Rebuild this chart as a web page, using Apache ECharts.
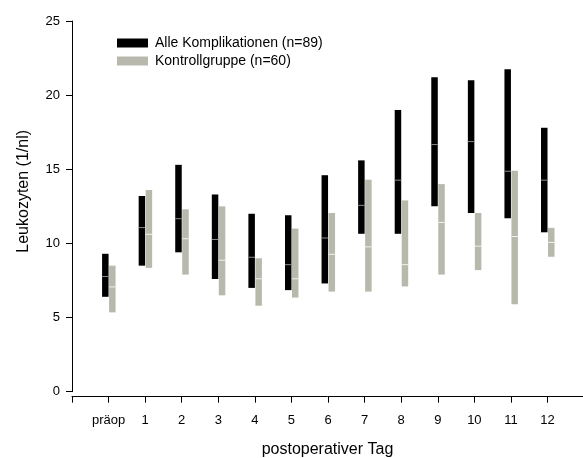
<!DOCTYPE html>
<html>
<head>
<meta charset="utf-8">
<script src="https://cdn.jsdelivr.net/npm/echarts@6/dist/echarts.min.js"></script>
<style>html,body{margin:0;padding:0;background:#fff;}#c{width:583px;height:458px;}</style>
</head>
<body>
<div id="c"></div>
<script>
const categories = ['präop','1','2','3','4','5','6','7','8','9','10','11','12'];
const allLow    = [6.4, 8.5, 9.4, 7.6, 7.0, 6.85, 7.3, 10.65, 10.65, 12.5, 12.05, 11.7, 10.75];
const allMedian = [7.8, 11.1, 11.7, 10.3, 9.1, 8.6, 10.4, 12.6, 14.3, 16.7, 16.9, 14.9, 14.3];
const allHigh   = [9.3, 13.2, 15.3, 13.3, 12.0, 11.9, 14.6, 15.6, 19.0, 21.2, 21.0, 21.75, 17.8];
const ctrlLow    = [5.35, 8.35, 7.9, 6.5, 5.8, 6.35, 6.75, 6.75, 7.1, 7.9, 8.2, 5.9, 9.1];
const ctrlMedian = [7.1, 10.65, 10.35, 8.9, 7.65, 7.65, 9.3, 9.8, 8.6, 11.45, 9.85, 10.5, 10.1];
const ctrlHigh   = [8.5, 13.6, 12.3, 12.5, 9.0, 11.0, 12.05, 14.3, 12.9, 14.0, 12.05, 14.9, 11.05];
const seriesNames = ['Alle Komplikationen (n=89)', 'Kontrollgruppe (n=60)'];
const yTicks = [0, 5, 10, 15, 20, 25];

const FONT = 'Liberation Sans, Arial, sans-serif';
const BLACK = '#000000';
const GRAY = '#b8b8ac';

function rows(lo, med, hi) {
  return categories.map((c, i) => [i, lo[i], med[i], hi[i]]);
}
function makeRender(from, to, fill, medColor) {
  return function (params, api) {
    const x = api.value(0);
    const lo = api.coord([x, api.value(1)]);
    const med = api.coord([x, api.value(2)]);
    const hi = api.coord([x, api.value(3)]);
    return {
      type: 'group',
      children: [
        { type: 'rect', shape: { x: lo[0] + from, y: hi[1], width: to - from, height: lo[1] - hi[1] }, style: { fill: fill } },
        { type: 'line', shape: { x1: lo[0] + from, y1: med[1] + 0.5, x2: lo[0] + to, y2: med[1] + 0.5 }, style: { stroke: medColor, lineWidth: 1 } }
      ]
    };
  };
}

const chart = echarts.init(document.getElementById('c'), null, { renderer: 'canvas' });
chart.setOption({
  animation: false,
  backgroundColor: '#ffffff',
  textStyle: { fontFamily: FONT },
  legend: {
    orient: 'vertical',
    left: 112,
    top: 30,
    itemWidth: 31,
    itemHeight: 9,
    itemGap: 2,
    icon: 'rect',
    data: seriesNames,
    textStyle: { fontFamily: FONT, fontSize: 14, color: '#000', lineHeight: 16, padding: [0, 0, 0, 2] }
  },
  grid: { left: 72, right: 0, top: 21, bottom: 66.3, containLabel: false, outerBoundsMode: 'none' },
  xAxis: {
    type: 'value',
    min: -1,
    max: 12.97,
    interval: 1,
    offset: 5,
    name: 'postoperativer Tag',
    nameLocation: 'middle',
    nameGap: 45,
    nameTextStyle: { fontFamily: FONT, fontSize: 16, color: '#000' },
    axisLine: { show: true, onZero: false, lineStyle: { color: '#000', width: 1 } },
    axisTick: { show: true, length: 6, lineStyle: { color: '#000' } },
    axisLabel: {
      fontFamily: FONT, fontSize: 13, color: '#000', margin: 17,
      showMinLabel: true, showMaxLabel: false,
      formatter: function (v) { return (v >= 0 && v < categories.length) ? categories[v] : ''; }
    },
    splitLine: { show: false }
  },
  yAxis: {
    type: 'value',
    min: yTicks[0],
    max: yTicks[yTicks.length - 1],
    interval: 5,
    name: 'Leukozyten (1/nl)',
    nameLocation: 'middle',
    nameGap: 40,
    nameRotate: 90,
    nameTextStyle: { fontFamily: FONT, fontSize: 16, color: '#000', padding: [0, 0, 0, 30] },
    axisLine: { show: true, onZero: false, lineStyle: { color: '#000', width: 1 } },
    axisTick: { show: true, length: 6, lineStyle: { color: '#000' } },
    axisLabel: { fontFamily: FONT, fontSize: 13, color: '#000', margin: 12 },
    splitLine: { show: false }
  },
  series: [
    {
      name: seriesNames[0],
      type: 'custom',
      itemStyle: { color: BLACK },
      renderItem: makeRender(-6.5, 0, BLACK, '#8a8a8a'),
      encode: { x: 0, y: [1, 2, 3] },
      data: rows(allLow, allMedian, allHigh)
    },
    {
      name: seriesNames[1],
      type: 'custom',
      itemStyle: { color: GRAY },
      renderItem: makeRender(0.5, 7, GRAY, '#f2f2ee'),
      encode: { x: 0, y: [1, 2, 3] },
      data: rows(ctrlLow, ctrlMedian, ctrlHigh)
    }
  ]
});
</script>
</body>
</html>
